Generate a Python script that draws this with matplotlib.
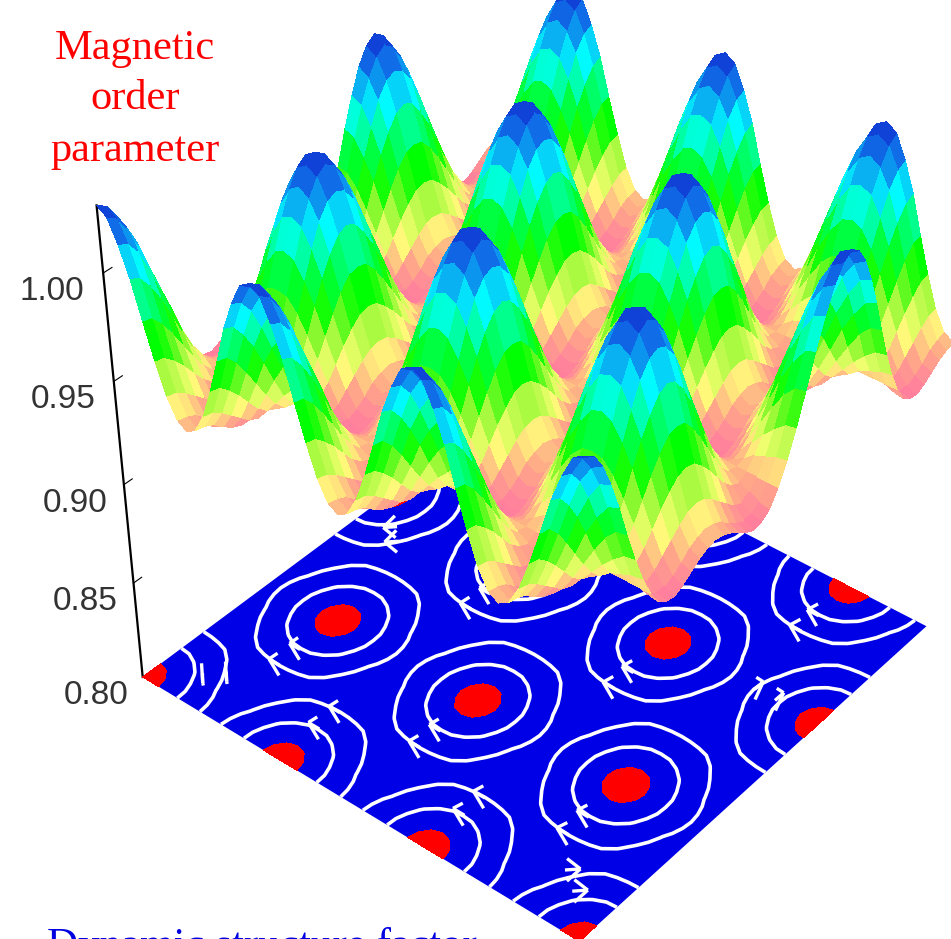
import numpy as np
import matplotlib
matplotlib.use('Agg')
import matplotlib.pyplot as plt
from matplotlib.colors import LinearSegmentedColormap

# floor coordinates, 49 x 49 grid
u_grid = [i / 48 for i in range(49)]
v_grid = [j / 48 for j in range(49)]

# order parameter x 1000, one list per row along u
row00 = [1030,1027,1017,1004,987,971,957,948,945,948,957,971,987,1004,1017,1027,1030,1027,1017,1004,987,971,957,948,945,948,957,971,987,1004,1017,1027,1030,1027,1017,1004,987,971,957,948,945,948,957,971,987,1004,1017,1027,1030]
row01 = [1027,1024,1015,1002,986,970,956,947,944,947,956,970,986,1002,1015,1024,1027,1024,1015,1002,986,970,956,947,944,947,956,970,986,1002,1015,1024,1027,1024,1015,1002,986,970,956,947,944,947,956,970,986,1002,1015,1024,1027]
row02 = [1020,1017,1009,996,981,966,953,945,942,945,953,966,981,996,1009,1017,1020,1017,1009,996,981,966,953,945,942,945,953,966,981,996,1009,1017,1020,1017,1009,996,981,966,953,945,942,945,953,966,981,996,1009,1017,1020]
row03 = [1009,1007,999,988,974,961,949,941,939,941,949,961,974,988,999,1007,1009,1007,999,988,974,961,949,941,939,941,949,961,974,988,999,1007,1009,1007,999,988,974,961,949,941,939,941,949,961,974,988,999,1007,1009]
row04 = [996,994,987,978,966,955,945,938,936,938,945,955,966,978,987,994,996,994,987,978,966,955,945,938,936,938,945,955,966,978,987,994,996,994,987,978,966,955,945,938,936,938,945,955,966,978,987,994,996]
row05 = [981,980,975,967,958,949,941,936,934,936,941,949,958,967,975,980,981,980,975,967,958,949,941,936,934,936,941,949,958,967,975,980,981,980,975,967,958,949,941,936,934,936,941,949,958,967,975,980,981]
row06 = [967,966,962,957,951,945,939,936,935,936,939,945,951,957,962,966,967,966,962,957,951,945,939,936,935,936,939,945,951,957,962,966,967,966,962,957,951,945,939,936,935,936,939,945,951,957,962,966,967]
row07 = [955,954,952,950,946,943,941,939,938,939,941,943,946,950,952,954,955,954,952,950,946,943,941,939,938,939,941,943,946,950,952,954,955,954,952,950,946,943,941,939,938,939,941,943,946,950,952,954,955]
row08 = [945,945,945,945,945,945,945,945,945,945,945,945,945,945,945,945,945,945,945,945,945,945,945,945,945,945,945,945,945,945,945,945,945,945,945,945,945,945,945,945,945,945,945,945,945,945,945,945,945]
row09 = [938,939,941,943,946,950,952,954,955,954,952,950,946,943,941,939,938,939,941,943,946,950,952,954,955,954,952,950,946,943,941,939,938,939,941,943,946,950,952,954,955,954,952,950,946,943,941,939,938]
row10 = [935,936,939,945,951,957,962,966,967,966,962,957,951,945,939,936,935,936,939,945,951,957,962,966,967,966,962,957,951,945,939,936,935,936,939,945,951,957,962,966,967,966,962,957,951,945,939,936,935]
row11 = [934,936,941,949,958,967,975,980,981,980,975,967,958,949,941,936,934,936,941,949,958,967,975,980,981,980,975,967,958,949,941,936,934,936,941,949,958,967,975,980,981,980,975,967,958,949,941,936,934]
row12 = [936,938,945,955,966,978,987,994,996,994,987,978,966,955,945,938,936,938,945,955,966,978,987,994,996,994,987,978,966,955,945,938,936,938,945,955,966,978,987,994,996,994,987,978,966,955,945,938,936]
row13 = [939,941,949,961,974,988,999,1007,1009,1007,999,988,974,961,949,941,939,941,949,961,974,988,999,1007,1009,1007,999,988,974,961,949,941,939,941,949,961,974,988,999,1007,1009,1007,999,988,974,961,949,941,939]
row14 = [942,945,953,966,981,996,1009,1017,1020,1017,1009,996,981,966,953,945,942,945,953,966,981,996,1009,1017,1020,1017,1009,996,981,966,953,945,942,945,953,966,981,996,1009,1017,1020,1017,1009,996,981,966,953,945,942]
row15 = [944,947,956,970,986,1002,1015,1024,1027,1024,1015,1002,986,970,956,947,944,947,956,970,986,1002,1015,1024,1027,1024,1015,1002,986,970,956,947,944,947,956,970,986,1002,1015,1024,1027,1024,1015,1002,986,970,956,947,944]
row16 = [945,948,957,971,987,1004,1017,1027,1030,1027,1017,1004,987,971,957,948,945,948,957,971,987,1004,1017,1027,1030,1027,1017,1004,987,971,957,948,945,948,957,971,987,1004,1017,1027,1030,1027,1017,1004,987,971,957,948,945]

order_rows = [row00,row01,row02,row03,row04,row05,row06,row07,row08,row09,row10,row11,row12,row13,row14,row15,row16,
              row15,row14,row13,row12,row11,row10,row09,row08,row07,row06,row05,row04,row03,row02,row01,row00,
              row01,row02,row03,row04,row05,row06,row07,row08,row09,row10,row11,row12,row13,row14,row15,row16]

# floor levels
spot_levels = [1.018, 1.04]
ring_levels = [0.950, 0.985]

# flow arrows on the rings: position and direction in floor coordinates
arrow_u = [0.167,0.167,0.5,0.5,0.833,0.833,0.333,0.333,0.667,0.667,
           0.5,0.5,0.833,0.833,0.333,0.333,0.667,0.667,
           0.075,0.105,0.92,0.88,0.905,0.86,0.075,0.105]
arrow_v = [0.232,0.178,0.232,0.178,0.232,0.178,0.565,0.511,0.565,0.511,
           0.899,0.845,0.899,0.845,0.101,0.155,0.101,0.155,
           0.075,0.105,0.08,0.11,0.667,0.667,0.6,0.57]
arrow_du = [-1]*18 + [1,1,1,1,0,0,-1,-1]
arrow_dv = [0]*18 + [-1,-1,1,1,1,1,-1,-1]

z_ticks = [0.80, 0.85, 0.90, 0.95, 1.00]
z_labels = ['0.80', '0.85', '0.90', '0.95', '1.00']

rainbow = LinearSegmentedColormap.from_list('rainbow_height', [
    (0.00, '#ff7aa0'), (0.10, '#ffa888'), (0.20, '#ffff78'), (0.34, '#90f830'),
    (0.46, '#00ff00'), (0.56, '#00ff40'), (0.74, '#00ffff'), (0.90, '#1070e8'), (1.00, '#1030d0')])

X, Y = np.meshgrid(u_grid, v_grid)
Z = np.array(order_rows) / 1000

fig = plt.figure(figsize=(9.51, 9.39), dpi=100)
ax = fig.add_axes([-0.153, -0.176, 1.4, 1.4], projection='3d', computed_zorder=False)
ax.set_proj_type('persp', focal_length=0.48)
ax.view_init(elev=38.5, azim=-50.5)
ax.set_box_aspect((1, 1, 1.02), zoom=0.756)

# floor
ax.plot_surface(np.array([[0, 1], [0, 1]]), np.array([[0, 0], [1, 1]]), np.array([[0.8, 0.8], [0.8, 0.8]]),
                color='#0000e6', shade=False, zorder=1)
ax.contourf(X, Y, Z, levels=spot_levels, colors='#ff0000', zdir='z', offset=0.8, zorder=2)
ax.contour(X, Y, Z, levels=ring_levels, colors='white', linewidths=2.6, zdir='z', offset=0.8, zorder=3)
ax.quiver(arrow_u, arrow_v, [0.8]*len(arrow_u), arrow_du, arrow_dv, [0]*len(arrow_u),
          length=0.026, normalize=True, color='white', linewidth=2.4, arrow_length_ratio=0.9, zorder=4)

# surface
ax.plot_surface(X, Y, Z, cmap=rainbow, vmin=0.934, vmax=1.03, rstride=1, cstride=1,
                linewidth=0, antialiased=False, shade=False, zorder=5)

ax.set_xlim(0, 1, view_margin=0)
ax.set_ylim(0, 1, view_margin=0)
ax.set_zlim(0.8, 1.03, view_margin=0)

for a in (ax.xaxis, ax.yaxis):
    a.set_ticks([])
    a.line.set_visible(False)
for a in (ax.xaxis, ax.yaxis, ax.zaxis):
    a.set_pane_color((1, 1, 1, 0))
    a.pane.set_edgecolor((1, 1, 1, 0))
ax.grid(False)
ax.zaxis.set_ticks_position('lower')
ax.zaxis.line.set_linewidth(1.6)
ax.zaxis._axinfo['tick']['inward_factor'] = 0.0
ax.zaxis._axinfo['tick']['outward_factor'] = 0.25
ax.set_zticks(z_ticks)
ax.set_zticklabels(z_labels, fontsize=24, color='#333333', family='Liberation Sans')
ax.tick_params(axis='z', pad=21, width=1.5)

# labels
fig.text(135 / 951, 1 - 49 / 939, 'Magnetic', color='red', family='Liberation Serif', fontsize=30.5, ha='center', va='center')
fig.text(135 / 951, 1 - 99 / 939, 'order', color='red', family='Liberation Serif', fontsize=30.5, ha='center', va='center')
fig.text(135 / 951, 1 - 151 / 939, 'parameter', color='red', family='Liberation Serif', fontsize=30.5, ha='center', va='center')
fig.text(47 / 951, 1 - 957 / 939, 'Dynamic structure factor', color='#0000e0', family='Liberation Serif', fontsize=31, ha='left', va='baseline')

fig.savefig('out.png', dpi=100)
